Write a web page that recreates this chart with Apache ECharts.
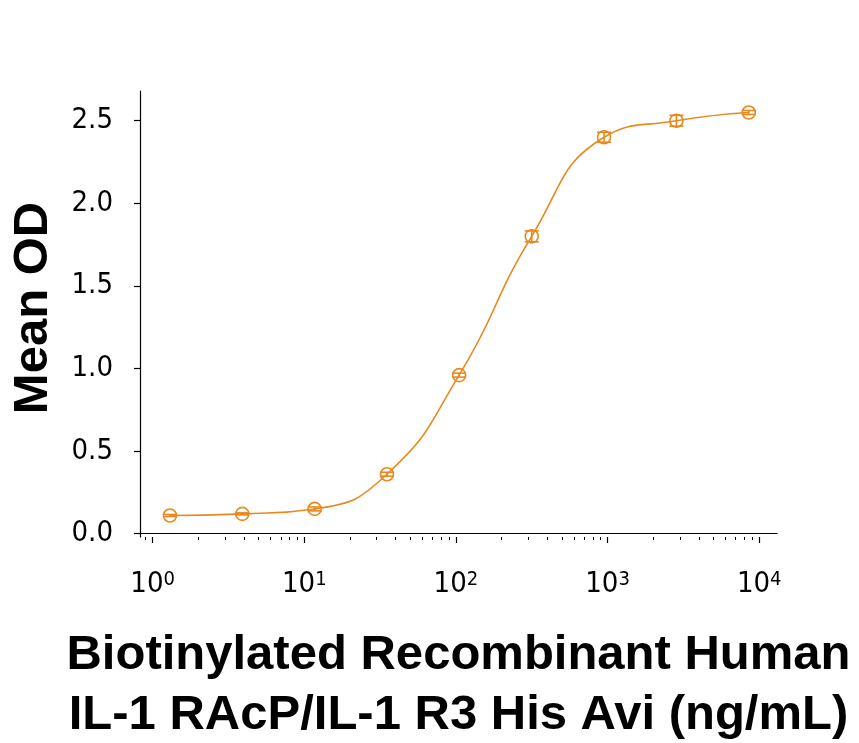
<!DOCTYPE html>
<html>
<head>
<meta charset="utf-8">
<script src="https://cdn.jsdelivr.net/npm/echarts@6/dist/echarts.min.js"></script>
<style>
html, body { margin: 0; padding: 0; background: #fff; }
#main { width: 859px; height: 743px; }
</style>
</head>
<body>
<div id="main"></div>
<script>
// concentration (ng/mL), 3-fold dilution series
var concentration = [1.3, 3.9, 11.7, 35.1, 105, 316, 948, 2844, 8533];
var meanOD = [0.11, 0.12, 0.15, 0.36, 0.96, 1.80, 2.40, 2.50, 2.55];
var odError = [0.006, 0.006, 0.012, 0.012, 0.012, 0.033, 0.03, 0.033, 0.012];
var yTicks = [0, 0.5, 1.0, 1.5, 2.0, 2.5];
var xDecades = [0, 1, 2, 3, 4];
var xRange = [0.825, 13100];

var orange = '#E8891D';
var narrow = "'Liberation Sans Narrow', 'DejaVu Sans Condensed', 'Arial Narrow', sans-serif";
var bold = "'Liberation Sans', Arial, sans-serif";

// minor tick spots 2..9 per decade (log10 positions)
var xMinor = [Math.log10(0.9)];
for (var d = 0; d < 4; d++) {
    for (var k = 2; k <= 9; k++) {
        xMinor.push(Math.log10(k * Math.pow(10, d)));
    }
}
var logMin = Math.log10(xRange[0]);
var logMax = Math.log10(xRange[1]);

var points = concentration.map(function (c, i) { return [c, meanOD[i]]; });
var bars = concentration.map(function (c, i) {
    return [c, meanOD[i] - odError[i], meanOD[i] + odError[i]];
});

var gridBox = { left: 140, right: 82, top: 91, bottom: 206, outerBoundsMode: 'none', containLabel: false };

var myChart = echarts.init(document.getElementById('main'));
var option = {
    animation: false,
    backgroundColor: '#fff',
    grid: [
        Object.assign({}, gridBox),
        Object.assign({}, gridBox),
        Object.assign({}, gridBox)
    ],
    xAxis: [
        {
            type: 'log',
            logBase: 10,
            gridIndex: 0,
            min: xRange[0],
            max: xRange[1],
            axisLine: { lineStyle: { color: '#000', width: 1.2 } },
            axisTick: { show: false },
            axisLabel: { show: false },
            splitLine: { show: false },
            name: 'Biotinylated Recombinant Human\nIL-1 RAcP/IL-1 R3 His Avi (ng/mL)',
            nameLocation: 'middle',
            nameGap: 88,
            nameTextStyle: {
                fontFamily: bold,
                fontWeight: 'bold',
                fontSize: 49,
                lineHeight: 60,
                color: '#000'
            }
        },
        {
            type: 'value',
            gridIndex: 1,
            min: logMin,
            max: logMax,
            axisLine: { show: false },
            axisTick: {
                customValues: xDecades,
                length: 6,
                lineStyle: { color: '#000', width: 1.2 }
            },
            axisLabel: {
                customValues: xDecades,
                margin: 33,
                color: '#000',
                fontFamily: narrow,
                fontSize: 29,
                lineHeight: 29,
                formatter: function (v) {
                    return '10{s|' + Math.round(v) + '}';
                },
                rich: {
                    s: {
                        fontFamily: narrow,
                        fontSize: 20,
                        lineHeight: 20,
                        verticalAlign: 'top',
                        color: '#000'
                    }
                }
            },
            splitLine: { show: false }
        },
        {
            type: 'value',
            gridIndex: 2,
            min: logMin,
            max: logMax,
            axisLine: { show: false },
            axisTick: {
                customValues: xMinor,
                length: 3,
                lineStyle: { color: '#000', width: 1 }
            },
            axisLabel: { show: false },
            splitLine: { show: false }
        }
    ],
    yAxis: [
        {
            type: 'value',
            gridIndex: 0,
            min: -0.02,
            max: 2.68,
            axisLine: { show: true, lineStyle: { color: '#000', width: 1.2 } },
            axisTick: {
                show: true,
                customValues: yTicks,
                length: 6,
                lineStyle: { color: '#000', width: 1.2 }
            },
            axisLabel: {
                customValues: yTicks,
                margin: 27,
                color: '#000',
                fontFamily: narrow,
                fontSize: 29,
                formatter: function (v) { return v.toFixed(1); }
            },
            splitLine: { show: false },
            name: 'Mean OD',
            nameLocation: 'middle',
            nameGap: 82,
            nameTextStyle: {
                fontFamily: bold,
                fontWeight: 'bold',
                fontSize: 49,
                color: '#000',
                padding: [0, 0, 0, 12]
            }
        },
        { type: 'value', gridIndex: 1, show: false, min: 0, max: 1 },
        { type: 'value', gridIndex: 2, show: false, min: 0, max: 1 }
    ],
    series: [
        {
            type: 'line',
            xAxisIndex: 0,
            yAxisIndex: 0,
            data: points,
            smooth: 0.5,
            symbol: 'circle',
            symbolSize: 13,
            itemStyle: { color: 'rgba(0,0,0,0)', borderColor: orange, borderWidth: 1.6 },
            lineStyle: { color: orange, width: 1.6 },
            z: 3
        },
        {
            type: 'custom',
            xAxisIndex: 0,
            yAxisIndex: 0,
            data: bars,
            encode: { x: 0, y: [1, 2] },
            z: 4,
            renderItem: function (params, api) {
                var x = api.value(0);
                var lo = api.coord([x, api.value(1)]);
                var hi = api.coord([x, api.value(2)]);
                var w = 7;
                var st = { stroke: orange, lineWidth: 1.6 };
                return {
                    type: 'group',
                    children: [
                        { type: 'line', shape: { x1: lo[0], y1: lo[1], x2: hi[0], y2: hi[1] }, style: st },
                        { type: 'line', shape: { x1: lo[0] - w, y1: lo[1], x2: lo[0] + w, y2: lo[1] }, style: st },
                        { type: 'line', shape: { x1: hi[0] - w, y1: hi[1], x2: hi[0] + w, y2: hi[1] }, style: st }
                    ]
                };
            }
        }
    ]
};

myChart.setOption(option);
</script>
</body>
</html>
